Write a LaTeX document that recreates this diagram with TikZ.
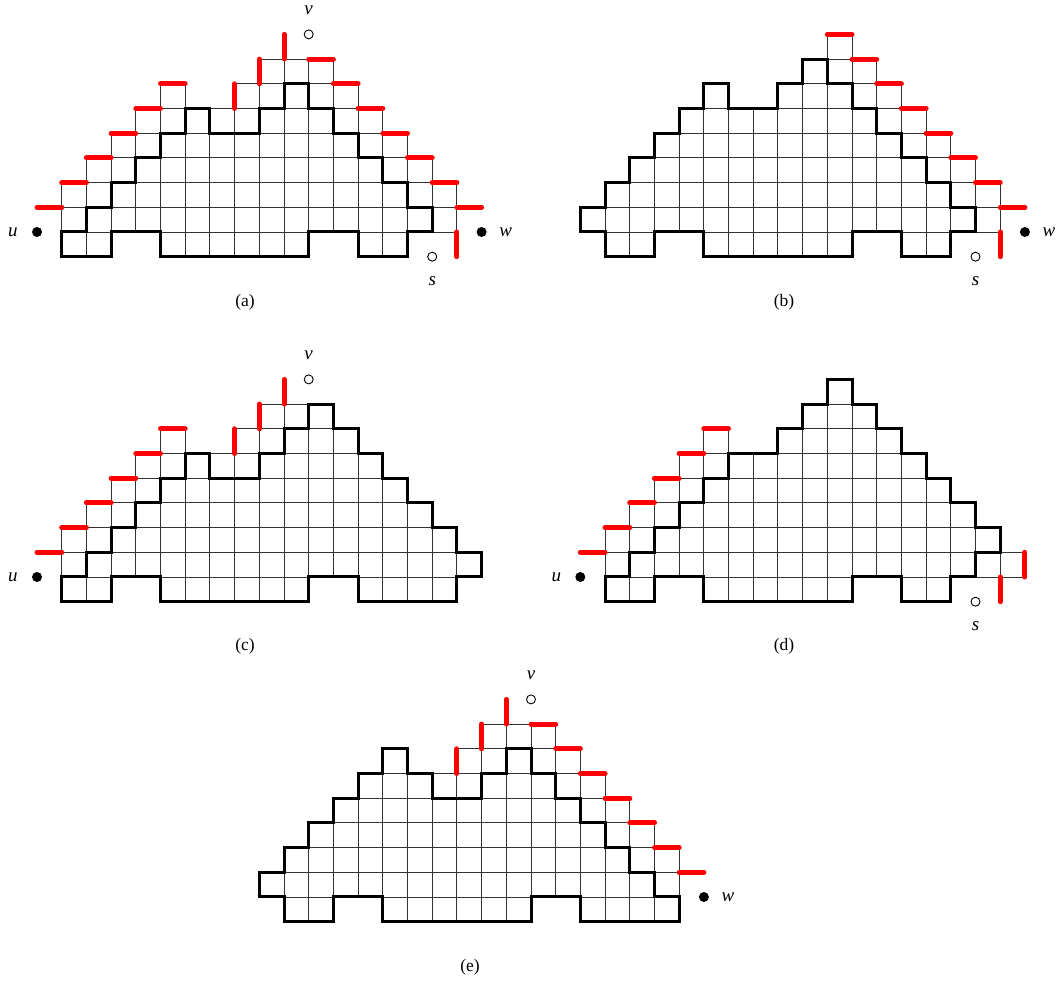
\documentclass[tikz,border=0pt]{standalone}
\usepackage{fontspec}
\setmainfont{Liberation Serif}
\begin{document}
\begin{tikzpicture}[x=1pt,y=1pt]
\tikzset{
 gridline/.style={line width=0.9pt, black!80},
 outline/.style={line width=3pt, black, line join=miter},
 redseg/.style={line width=5pt, red, line cap=round},
 fdot/.style={circle, fill=black, inner sep=0pt, minimum size=10pt},
 odot/.style={circle, draw=black, line width=0.9pt, fill=white, inner sep=0pt, minimum size=9pt},
 lab/.style={font=\fontsize{19}{22}\selectfont\itshape, inner sep=0pt},
 captxt/.style={font=\fontsize{17.5}{21}\selectfont, inner sep=0pt},
 panel/.style={x=24.7pt, y=24.7pt}
}
\newcommand\fullgrid{%
  \foreach \gx in {-2,...,18} {\draw[gridline] (\gx,-1) -- (\gx,10);}
  \foreach \gy in {-1,...,10} {\draw[gridline] (-2,\gy) -- (18,\gy);}}
\newcommand\thincells[1]{\foreach \i/\j in {#1} {\draw[gridline] (\i,\j) rectangle ++(1,1);}}
\newcommand\leftpart{%
  \thincells{0/1,0/2,1/2,1/3,2/3,2/4,3/4,3/5,4/5,4/6}}
\newcommand\leftred{%
  \foreach \k in {-1,...,4} {\draw[redseg] (\k,\k+3) -- (\k+1,\k+3);}}
\newcommand\toppart{\thincells{6/5,7/5,7/6,8/6,8/7,9/7}}
\newcommand\topred{%
  \draw[redseg] (7,6) -- (7,7);
  \draw[redseg] (8,7) -- (8,8);
  \draw[redseg] (9,8) -- (9,9);}
\newcommand\rightpart{\thincells{10/6,10/7,11/5,11/6,12/4,12/5,13/3,13/4,14/2,14/3,15/1,15/2}}
\newcommand\rightred{%
  \foreach \k in {10,...,16} {\draw[redseg] (\k,18-\k) -- (\k+1,18-\k);}}
\useasboundingbox (0,0) rectangle (1058,983);

% ---------------- (a)
\begin{scope}[shift={(61.7pt,726.3pt)}, panel]
\def\pA{(0,0)--(2,0)--(2,1)--(4,1)--(4,0)--(10,0)--(10,1)--(12,1)--(12,0)--(14,0)--(14,1)--(15,1)--(15,2)--(14,2)--(14,3)--(13,3)--(13,4)--(12,4)--(12,5)--(11,5)--(11,6)--(10,6)--(10,7)--(9,7)--(9,6)--(8,6)--(8,5)--(6,5)--(6,6)--(5,6)--(5,5)--(4,5)--(4,4)--(3,4)--(3,3)--(2,3)--(2,2)--(1,2)--(1,1)--(0,1)--cycle}
\begin{scope}\clip \pA; \fullgrid \end{scope}
\leftpart \toppart \rightpart
\draw[outline] \pA;
\leftred \topred \rightred
\draw[redseg] (16,0) -- (16,1);
\node[fdot] (ua) at (-1,1) {};
\node[odot] (va) at (10,9) {};
\node[fdot] (wa) at (17,1) {};
\node[odot] (sa) at (15,0) {};
\node[lab] (ula) at ([xshift=-24pt]ua.center) {u};
\node[lab] (vla) at ([yshift=24pt]va.center) {v};
\node[lab] (wla) at ([xshift=24pt]wa.center) {w};
\node[lab] (sla) at ([yshift=-24pt]sa.center) {s};
\end{scope}
\node[captxt] (capa) at (245,681) {(a)};

% ---------------- (b)
\begin{scope}[shift={(605pt,726.3pt)}, panel]
\def\pB{(0,0)--(2,0)--(2,1)--(4,1)--(4,0)--(10,0)--(10,1)--(12,1)--(12,0)--(14,0)--(14,1)--(15,1)--(15,2)--(14,2)--(14,3)--(13,3)--(13,4)--(12,4)--(12,5)--(11,5)--(11,6)--(10,6)--(10,7)--(9,7)--(9,8)--(8,8)--(8,7)--(7,7)--(7,6)--(5,6)--(5,7)--(4,7)--(4,6)--(3,6)--(3,5)--(2,5)--(2,4)--(1,4)--(1,3)--(0,3)--(0,2)--(-1,2)--(-1,1)--(0,1)--cycle}
\begin{scope}\clip \pB; \fullgrid \end{scope}
\thincells{9/7,9/8}
\rightpart
\draw[outline] \pB;
\draw[redseg] (9,9) -- (10,9);
\rightred
\draw[redseg] (16,0) -- (16,1);
\node[fdot] (wb) at (17,1) {};
\node[odot] (sb) at (15,0) {};
\node[lab] (wlb) at ([xshift=24pt]wb.center) {w};
\node[lab] (slb) at ([yshift=-24pt]sb.center) {s};
\end{scope}
\node[captxt] (capb) at (784,681) {(b)};

% ---------------- (c)
\begin{scope}[shift={(61.7pt,381.3pt)}, panel]
\def\pC{(0,0)--(2,0)--(2,1)--(4,1)--(4,0)--(10,0)--(10,1)--(12,1)--(12,0)--(16,0)--(16,1)--(17,1)--(17,2)--(16,2)--(16,3)--(15,3)--(15,4)--(14,4)--(14,5)--(13,5)--(13,6)--(12,6)--(12,7)--(11,7)--(11,8)--(10,8)--(10,7)--(9,7)--(9,6)--(8,6)--(8,5)--(6,5)--(6,6)--(5,6)--(5,5)--(4,5)--(4,4)--(3,4)--(3,3)--(2,3)--(2,2)--(1,2)--(1,1)--(0,1)--cycle}
\begin{scope}\clip \pC; \fullgrid \end{scope}
\leftpart \toppart
\draw[outline] \pC;
\leftred \topred
\node[fdot] (uc) at (-1,1) {};
\node[odot] (vc) at (10,9) {};
\node[lab] (ulc) at ([xshift=-24pt]uc.center) {u};
\node[lab] (vlc) at ([yshift=24pt]vc.center) {v};
\end{scope}
\node[captxt] (capc) at (245,337) {(c)};

% ---------------- (d)
\begin{scope}[shift={(605pt,381.3pt)}, panel]
\def\pD{(0,0)--(2,0)--(2,1)--(4,1)--(4,0)--(10,0)--(10,1)--(12,1)--(12,0)--(14,0)--(14,1)--(15,1)--(15,2)--(16,2)--(16,3)--(15,3)--(15,4)--(14,4)--(14,5)--(13,5)--(13,6)--(12,6)--(12,7)--(11,7)--(11,8)--(10,8)--(10,9)--(9,9)--(9,8)--(8,8)--(8,7)--(7,7)--(7,6)--(5,6)--(5,5)--(4,5)--(4,4)--(3,4)--(3,3)--(2,3)--(2,2)--(1,2)--(1,1)--(0,1)--cycle}
\begin{scope}\clip \pD; \fullgrid \end{scope}
\leftpart
\thincells{15/1,16/1}
\draw[outline] \pD;
\leftred
\draw[redseg] (17,1) -- (17,2);
\draw[redseg] (16,0) -- (16,1);
\node[fdot] (ud) at (-1,1) {};
\node[odot] (sd) at (15,0) {};
\node[lab] (uld) at ([xshift=-24pt]ud.center) {u};
\node[lab] (sld) at ([yshift=-24pt]sd.center) {s};
\end{scope}
\node[captxt] (capd) at (784,337) {(d)};

% ---------------- (e)
\begin{scope}[shift={(284pt,61.3pt)}, panel]
\def\pE{(0,0)--(2,0)--(2,1)--(4,1)--(4,0)--(10,0)--(10,1)--(12,1)--(12,0)--(16,0)--(16,1)--(15,1)--(15,2)--(14,2)--(14,3)--(13,3)--(13,4)--(12,4)--(12,5)--(11,5)--(11,6)--(10,6)--(10,7)--(9,7)--(9,6)--(8,6)--(8,5)--(6,5)--(6,6)--(5,6)--(5,7)--(4,7)--(4,6)--(3,6)--(3,5)--(2,5)--(2,4)--(1,4)--(1,3)--(0,3)--(0,2)--(-1,2)--(-1,1)--(0,1)--cycle}
\begin{scope}\clip \pE; \fullgrid \end{scope}
\toppart \rightpart
\draw[outline] \pE;
\topred \rightred
\node[odot] (ve) at (10,9) {};
\node[fdot] (we) at (17,1) {};
\node[lab] (vle) at ([yshift=24pt]ve.center) {v};
\node[lab] (wle) at ([xshift=24pt]we.center) {w};
\end{scope}
\node[captxt] (cape) at (470,16) {(e)};
\end{tikzpicture}
\end{document}
